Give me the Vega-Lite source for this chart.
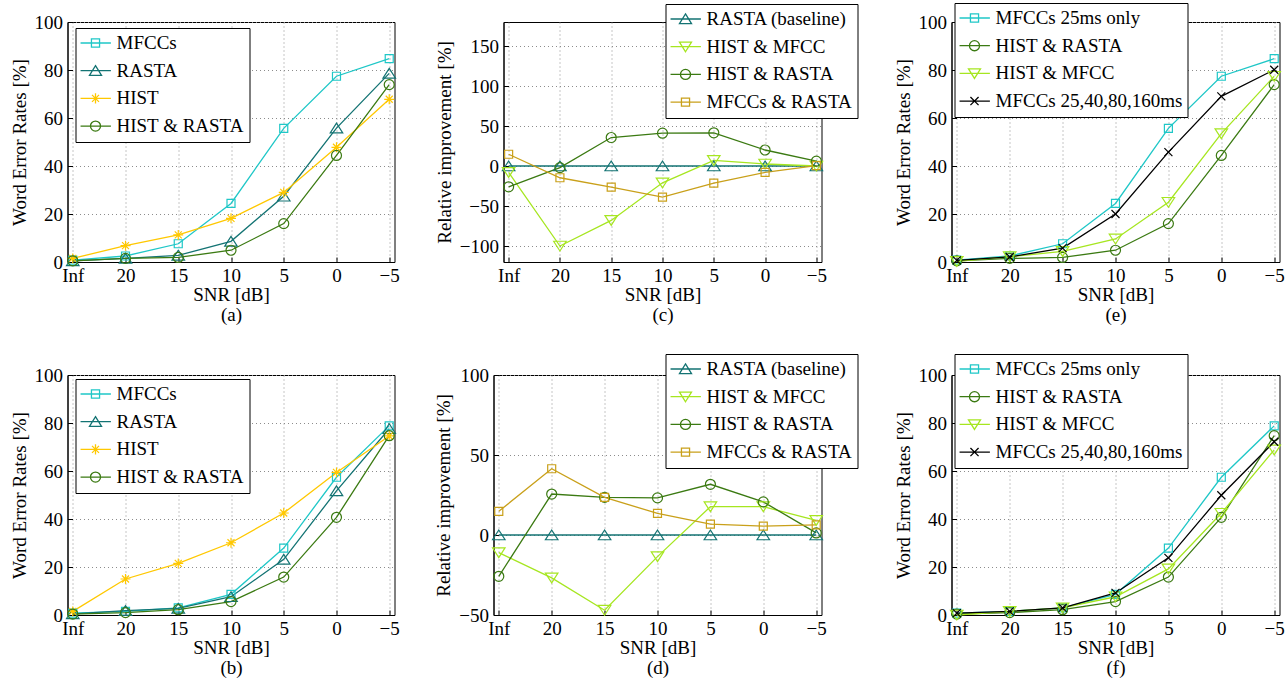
{
  "$schema": "https://vega.github.io/schema/vega-lite/v6.json",
  "background": "white",
  "padding": {"left": 9.5, "top": 2, "right": 2, "bottom": 2},
  "datasets": {
    "a": [
      {"snr": "Inf", "MFCCs": 0.8, "RASTA": 0.5, "HIST": 1.5, "HIST & RASTA": 0.5},
      {"snr": "20", "MFCCs": 2.5, "RASTA": 1.5, "HIST": 6.8, "HIST & RASTA": 1.5},
      {"snr": "15", "MFCCs": 7.6, "RASTA": 2.8, "HIST": 11.3, "HIST & RASTA": 1.9},
      {"snr": "10", "MFCCs": 24.4, "RASTA": 8.6, "HIST": 18.2, "HIST & RASTA": 4.9},
      {"snr": "5", "MFCCs": 55.7, "RASTA": 27.4, "HIST": 29, "HIST & RASTA": 16},
      {"snr": "0", "MFCCs": 77.4, "RASTA": 55.8, "HIST": 47.8, "HIST & RASTA": 44.4},
      {"snr": "−5", "MFCCs": 84.7, "RASTA": 78.6, "HIST": 67.8, "HIST & RASTA": 73.9}
    ],
    "b": [
      {"snr": "Inf", "MFCCs": 0.8, "RASTA": 0.5, "HIST": 1.5, "HIST & RASTA": 0.4},
      {"snr": "20", "MFCCs": 1.5, "RASTA": 1.8, "HIST": 15, "HIST & RASTA": 1},
      {"snr": "15", "MFCCs": 3.0, "RASTA": 2.8, "HIST": 21.5, "HIST & RASTA": 2.2},
      {"snr": "10", "MFCCs": 8.6, "RASTA": 7.6, "HIST": 30.1, "HIST & RASTA": 5.6},
      {"snr": "5", "MFCCs": 27.9, "RASTA": 23.2, "HIST": 42.5, "HIST & RASTA": 15.8},
      {"snr": "0", "MFCCs": 57.4, "RASTA": 51.7, "HIST": 59.4, "HIST & RASTA": 40.7},
      {"snr": "−5", "MFCCs": 78.8, "RASTA": 77.6, "HIST": 74.6, "HIST & RASTA": 74.7}
    ],
    "c": [
      {"snr": "Inf", "RASTA (baseline)": 0, "HIST & MFCC": -8, "HIST & RASTA": -26, "MFCCs & RASTA": 14.7},
      {"snr": "20", "RASTA (baseline)": 0, "HIST & MFCC": -100, "HIST & RASTA": -2, "MFCCs & RASTA": -14.7},
      {"snr": "15", "RASTA (baseline)": 0, "HIST & MFCC": -68, "HIST & RASTA": 35.6, "MFCCs & RASTA": -26.4},
      {"snr": "10", "RASTA (baseline)": 0, "HIST & MFCC": -21, "HIST & RASTA": 41, "MFCCs & RASTA": -39},
      {"snr": "5", "RASTA (baseline)": 0, "HIST & MFCC": 7, "HIST & RASTA": 41.5, "MFCCs & RASTA": -21.4},
      {"snr": "0", "RASTA (baseline)": 0, "HIST & MFCC": 2.5, "HIST & RASTA": 20, "MFCCs & RASTA": -8},
      {"snr": "−5", "RASTA (baseline)": 0, "HIST & MFCC": 0, "HIST & RASTA": 6, "MFCCs & RASTA": 0.5}
    ],
    "d": [
      {"snr": "Inf", "RASTA (baseline)": 0, "HIST & MFCC": -11, "HIST & RASTA": -25.8, "MFCCs & RASTA": 14.8},
      {"snr": "20", "RASTA (baseline)": 0, "HIST & MFCC": -26.8, "HIST & RASTA": 25.6, "MFCCs & RASTA": 41.4},
      {"snr": "15", "RASTA (baseline)": 0, "HIST & MFCC": -47, "HIST & RASTA": 23.5, "MFCCs & RASTA": 23.5},
      {"snr": "10", "RASTA (baseline)": 0, "HIST & MFCC": -13.5, "HIST & RASTA": 23.2, "MFCCs & RASTA": 13.5},
      {"snr": "5", "RASTA (baseline)": 0, "HIST & MFCC": 17.7, "HIST & RASTA": 31.7, "MFCCs & RASTA": 6.8},
      {"snr": "0", "RASTA (baseline)": 0, "HIST & MFCC": 17.7, "HIST & RASTA": 20.7, "MFCCs & RASTA": 5.5},
      {"snr": "−5", "RASTA (baseline)": 0, "HIST & MFCC": 9.1, "HIST & RASTA": 1.3, "MFCCs & RASTA": 6.3}
    ],
    "e": [
      {"snr": "Inf", "MFCCs 25ms only": 0.8, "HIST & RASTA": 0.5, "HIST & MFCC": 0.3, "MFCCs 25,40,80,160ms": 0.7},
      {"snr": "20", "MFCCs 25ms only": 2.5, "HIST & RASTA": 1.5, "HIST & MFCC": 2.2, "MFCCs 25,40,80,160ms": 2.1},
      {"snr": "15", "MFCCs 25ms only": 7.6, "HIST & RASTA": 1.9, "HIST & MFCC": 4.4, "MFCCs 25,40,80,160ms": 5.8},
      {"snr": "10", "MFCCs 25ms only": 24.4, "HIST & RASTA": 4.9, "HIST & MFCC": 9.6, "MFCCs 25,40,80,160ms": 20},
      {"snr": "5", "MFCCs 25ms only": 55.7, "HIST & RASTA": 16, "HIST & MFCC": 24.9, "MFCCs 25,40,80,160ms": 45.8},
      {"snr": "0", "MFCCs 25ms only": 77.4, "HIST & RASTA": 44.4, "HIST & MFCC": 53.5, "MFCCs 25,40,80,160ms": 69},
      {"snr": "−5", "MFCCs 25ms only": 84.7, "HIST & RASTA": 73.9, "HIST & MFCC": 77.4, "MFCCs 25,40,80,160ms": 80.1}
    ],
    "f": [
      {"snr": "Inf", "MFCCs 25ms only": 0.8, "HIST & RASTA": 0.4, "HIST & MFCC": 0, "MFCCs 25,40,80,160ms": 0.8},
      {"snr": "20", "MFCCs 25ms only": 1.5, "HIST & RASTA": 1, "HIST & MFCC": 1.5, "MFCCs 25,40,80,160ms": 1.5},
      {"snr": "15", "MFCCs 25ms only": 3.0, "HIST & RASTA": 2.2, "HIST & MFCC": 3.0, "MFCCs 25,40,80,160ms": 3.0},
      {"snr": "10", "MFCCs 25ms only": 8.6, "HIST & RASTA": 5.6, "HIST & MFCC": 7.6, "MFCCs 25,40,80,160ms": 9.2},
      {"snr": "5", "MFCCs 25ms only": 27.9, "HIST & RASTA": 15.8, "HIST & MFCC": 19.2, "MFCCs 25,40,80,160ms": 23.8},
      {"snr": "0", "MFCCs 25ms only": 57.4, "HIST & RASTA": 40.7, "HIST & MFCC": 42.4, "MFCCs 25,40,80,160ms": 49.9},
      {"snr": "−5", "MFCCs 25ms only": 78.8, "HIST & RASTA": 74.7, "HIST & MFCC": 68.8, "MFCCs 25,40,80,160ms": 72.2}
    ]
  },
  "config": {
    "font": "Liberation Serif",
    "view": {"stroke": "black", "strokeWidth": 1},
    "axis": {
      "labelFont": "Liberation Serif", "labelFontSize": 19, "labelColor": "black",
      "titleFont": "Liberation Serif", "titleFontSize": 19, "titleFontWeight": "normal", "titleColor": "black",
      "domainColor": "black", "domainWidth": 1,
      "tickColor": "black", "tickSize": -5, "tickWidth": 1,
      "grid": true, "gridColor": "#8c8c8c", "gridDash": [1, 3], "gridWidth": 1,
      "labelPadding": 10, "titlePadding": 5
    },
    "axisX": {"labelAngle": 0, "titleLineHeight": 20, "titlePadding": 0, "labelPadding": 9.6},
    "legend": {
      "orient": "none", "direction": "vertical",
      "strokeColor": "black", "fillColor": "white", "padding": 5,
      "labelFont": "Liberation Serif", "labelFontSize": 19, "labelColor": "black", "labelLimit": 400,
      "symbolSize": 784, "symbolStrokeWidth": 1.3, "clipHeight": 20, "rowPadding": 7.7, "labelOffset": 6
    },
    "line": {"strokeWidth": 1.3},
    "point": {"filled": false, "size": 100, "strokeWidth": 1.2, "opacity": 1}
  },
  "spacing": 27,
  "resolve": {"scale": {"color": "independent"}, "legend": {"color": "independent"}},
  "vconcat": [
    {
      "bounds": "flush",
      "spacing": 0,
      "resolve": {"scale": {"color": "independent"}, "legend": {"color": "independent"}},
      "hconcat": [
        {
          "width": 327, "height": 240,
          "data": {"name": "a"},
          "transform": [{"fold": ["MFCCs", "RASTA", "HIST", "HIST & RASTA"], "as": ["series", "value"]}],
          "encoding": {
            "x": {"field": "snr", "type": "ordinal", "sort": ["Inf", "20", "15", "10", "5", "0", "−5"], "scale": {"type": "point", "padding": 0.1}, "axis": {"title": ["SNR [dB]", "(a)"]}},
            "y": {"field": "value", "type": "quantitative", "scale": {"domain": [0, 100], "nice": false, "zero": false}, "axis": {"title": "Word Error Rates [%]", "values": [0, 20, 40, 60, 80, 100]}},
            "color": {"field": "series", "type": "nominal",
              "scale": {"domain": ["MFCCs", "RASTA", "HIST", "HIST & RASTA"], "range": ["#1fc7c7", "#137373", "#ffc800", "#3b7a12"]},
              "legend": {"title": null, "legendX": 8, "legendY": 6,
                "encoding": {"symbols": {"fill": {"value": "transparent"}, "shape": {"value": {"expr": "'M-1.1,0H1.1' + (datum.value == 'HIST & RASTA' ? 'M-0.36,0A0.36,0.36,0,1,0,0.36,0A0.36,0.36,0,1,0,-0.36,0Z' : datum.value == 'HIST' ? 'M0,-0.36V0.36M-0.36,0H0.36M-0.25,-0.25L0.25,0.25M-0.25,0.25L0.25,-0.25' : datum.value == 'HIST & MFCC' ? 'M0,0.36L0.43,-0.33L-0.43,-0.33Z' : datum.value == 'MFCCs 25,40,80,160ms' ? 'M-0.29,-0.29L0.29,0.29M-0.29,0.29L0.29,-0.29' : indexof(datum.value, 'RASTA') == 0 ? 'M0,-0.36L0.43,0.33L-0.43,0.33Z' : 'M-0.29,-0.29H0.29V0.29H-0.29Z')"}}}}}}
          },
          "layer": [
            {"mark": {"type": "line"}},
            {"transform": [{"filter": "datum.series == 'MFCCs'"}], "mark": {"type": "point", "shape": "M-0.8,-0.8H0.8V0.8H-0.8Z"}},
            {"transform": [{"filter": "datum.series == 'RASTA'"}], "mark": {"type": "point", "shape": "M0,-1L1.25,0.95L-1.25,0.95Z"}},
            {"transform": [{"filter": "datum.series == 'HIST'"}], "mark": {"type": "point", "shape": "M0,-1V1M-1,0H1M-0.7,-0.7L0.7,0.7M-0.7,0.7L0.7,-0.7"}},
            {"transform": [{"filter": "datum.series == 'HIST & RASTA'"}], "mark": {"type": "point", "shape": "circle"}}
          ]
        },
        {"width": 109, "height": 240, "data": {"values": []}, "mark": "point", "encoding": {}, "view": {"stroke": null}},
        {
          "width": 318, "height": 240,
          "data": {"name": "c"},
          "transform": [{"fold": ["RASTA (baseline)", "HIST & MFCC", "HIST & RASTA", "MFCCs & RASTA"], "as": ["series", "value"]}],
          "encoding": {
            "x": {"field": "snr", "type": "ordinal", "sort": ["Inf", "20", "15", "10", "5", "0", "−5"], "scale": {"type": "point", "padding": 0.1}, "axis": {"title": ["SNR [dB]", "(c)"]}},
            "y": {"field": "value", "type": "quantitative", "scale": {"domain": [-120, 180], "nice": false, "zero": false}, "axis": {"title": "Relative improvement [%]", "values": [-100, -50, 0, 50, 100, 150]}},
            "color": {"field": "series", "type": "nominal",
              "scale": {"domain": ["RASTA (baseline)", "HIST & MFCC", "HIST & RASTA", "MFCCs & RASTA"], "range": ["#137373", "#a6e620", "#3b7a12", "#c9a01a"]},
              "legend": {"title": null, "legendX": 162, "legendY": -18,
                "encoding": {"symbols": {"fill": {"value": "transparent"}, "shape": {"value": {"expr": "'M-1.1,0H1.1' + (datum.value == 'HIST & RASTA' ? 'M-0.36,0A0.36,0.36,0,1,0,0.36,0A0.36,0.36,0,1,0,-0.36,0Z' : datum.value == 'HIST' ? 'M0,-0.36V0.36M-0.36,0H0.36M-0.25,-0.25L0.25,0.25M-0.25,0.25L0.25,-0.25' : datum.value == 'HIST & MFCC' ? 'M0,0.36L0.43,-0.33L-0.43,-0.33Z' : datum.value == 'MFCCs 25,40,80,160ms' ? 'M-0.29,-0.29L0.29,0.29M-0.29,0.29L0.29,-0.29' : indexof(datum.value, 'RASTA') == 0 ? 'M0,-0.36L0.43,0.33L-0.43,0.33Z' : 'M-0.29,-0.29H0.29V0.29H-0.29Z')"}}}}}}
          },
          "layer": [
            {"mark": {"type": "line"}},
            {"transform": [{"filter": "datum.series == 'RASTA (baseline)'"}], "mark": {"type": "point", "shape": "M0,-1L1.25,0.95L-1.25,0.95Z"}},
            {"transform": [{"filter": "datum.series == 'HIST & MFCC'"}], "mark": {"type": "point", "shape": "M0,1L1.25,-0.95L-1.25,-0.95Z"}},
            {"transform": [{"filter": "datum.series == 'HIST & RASTA'"}], "mark": {"type": "point", "shape": "circle"}},
            {"transform": [{"filter": "datum.series == 'MFCCs & RASTA'"}], "mark": {"type": "point", "shape": "M-0.8,-0.8H0.8V0.8H-0.8Z"}}
          ]
        },
        {"width": 130, "height": 240, "data": {"values": []}, "mark": "point", "encoding": {}, "view": {"stroke": null}},
        {
          "width": 328, "height": 240,
          "data": {"name": "e"},
          "transform": [{"fold": ["MFCCs 25ms only", "HIST & RASTA", "HIST & MFCC", "MFCCs 25,40,80,160ms"], "as": ["series", "value"]}],
          "encoding": {
            "x": {"field": "snr", "type": "ordinal", "sort": ["Inf", "20", "15", "10", "5", "0", "−5"], "scale": {"type": "point", "padding": 0.1}, "axis": {"title": ["SNR [dB]", "(e)"]}},
            "y": {"field": "value", "type": "quantitative", "scale": {"domain": [0, 100], "nice": false, "zero": false}, "axis": {"title": "Word Error Rates [%]", "values": [0, 20, 40, 60, 80, 100]}},
            "color": {"field": "series", "type": "nominal",
              "scale": {"domain": ["MFCCs 25ms only", "HIST & RASTA", "HIST & MFCC", "MFCCs 25,40,80,160ms"], "range": ["#1fc7c7", "#3b7a12", "#a6e620", "#000000"]},
              "legend": {"title": null, "legendX": 3, "legendY": -19,
                "encoding": {"symbols": {"fill": {"value": "transparent"}, "shape": {"value": {"expr": "'M-1.1,0H1.1' + (datum.value == 'HIST & RASTA' ? 'M-0.36,0A0.36,0.36,0,1,0,0.36,0A0.36,0.36,0,1,0,-0.36,0Z' : datum.value == 'HIST' ? 'M0,-0.36V0.36M-0.36,0H0.36M-0.25,-0.25L0.25,0.25M-0.25,0.25L0.25,-0.25' : datum.value == 'HIST & MFCC' ? 'M0,0.36L0.43,-0.33L-0.43,-0.33Z' : datum.value == 'MFCCs 25,40,80,160ms' ? 'M-0.29,-0.29L0.29,0.29M-0.29,0.29L0.29,-0.29' : indexof(datum.value, 'RASTA') == 0 ? 'M0,-0.36L0.43,0.33L-0.43,0.33Z' : 'M-0.29,-0.29H0.29V0.29H-0.29Z')"}}}}}}
          },
          "layer": [
            {"mark": {"type": "line"}},
            {"transform": [{"filter": "datum.series == 'MFCCs 25ms only'"}], "mark": {"type": "point", "shape": "M-0.8,-0.8H0.8V0.8H-0.8Z"}},
            {"transform": [{"filter": "datum.series == 'HIST & RASTA'"}], "mark": {"type": "point", "shape": "circle"}},
            {"transform": [{"filter": "datum.series == 'HIST & MFCC'"}], "mark": {"type": "point", "shape": "M0,1L1.25,-0.95L-1.25,-0.95Z"}},
            {"transform": [{"filter": "datum.series == 'MFCCs 25,40,80,160ms'"}], "mark": {"type": "point", "shape": "M-0.8,-0.8L0.8,0.8M-0.8,0.8L0.8,-0.8"}}
          ]
        }
      ]
    },
    {
      "bounds": "flush",
      "spacing": 0,
      "resolve": {"scale": {"color": "independent"}, "legend": {"color": "independent"}},
      "hconcat": [
        {
          "width": 327, "height": 240,
          "data": {"name": "b"},
          "transform": [{"fold": ["MFCCs", "RASTA", "HIST", "HIST & RASTA"], "as": ["series", "value"]}],
          "encoding": {
            "x": {"field": "snr", "type": "ordinal", "sort": ["Inf", "20", "15", "10", "5", "0", "−5"], "scale": {"type": "point", "padding": 0.1}, "axis": {"title": ["SNR [dB]", "(b)"]}},
            "y": {"field": "value", "type": "quantitative", "scale": {"domain": [0, 100], "nice": false, "zero": false}, "axis": {"title": "Word Error Rates [%]", "values": [0, 20, 40, 60, 80, 100]}},
            "color": {"field": "series", "type": "nominal",
              "scale": {"domain": ["MFCCs", "RASTA", "HIST", "HIST & RASTA"], "range": ["#1fc7c7", "#137373", "#ffc800", "#3b7a12"]},
              "legend": {"title": null, "legendX": 8, "legendY": 4,
                "encoding": {"symbols": {"fill": {"value": "transparent"}, "shape": {"value": {"expr": "'M-1.1,0H1.1' + (datum.value == 'HIST & RASTA' ? 'M-0.36,0A0.36,0.36,0,1,0,0.36,0A0.36,0.36,0,1,0,-0.36,0Z' : datum.value == 'HIST' ? 'M0,-0.36V0.36M-0.36,0H0.36M-0.25,-0.25L0.25,0.25M-0.25,0.25L0.25,-0.25' : datum.value == 'HIST & MFCC' ? 'M0,0.36L0.43,-0.33L-0.43,-0.33Z' : datum.value == 'MFCCs 25,40,80,160ms' ? 'M-0.29,-0.29L0.29,0.29M-0.29,0.29L0.29,-0.29' : indexof(datum.value, 'RASTA') == 0 ? 'M0,-0.36L0.43,0.33L-0.43,0.33Z' : 'M-0.29,-0.29H0.29V0.29H-0.29Z')"}}}}}}
          },
          "layer": [
            {"mark": {"type": "line"}},
            {"transform": [{"filter": "datum.series == 'MFCCs'"}], "mark": {"type": "point", "shape": "M-0.8,-0.8H0.8V0.8H-0.8Z"}},
            {"transform": [{"filter": "datum.series == 'RASTA'"}], "mark": {"type": "point", "shape": "M0,-1L1.25,0.95L-1.25,0.95Z"}},
            {"transform": [{"filter": "datum.series == 'HIST'"}], "mark": {"type": "point", "shape": "M0,-1V1M-1,0H1M-0.7,-0.7L0.7,0.7M-0.7,0.7L0.7,-0.7"}},
            {"transform": [{"filter": "datum.series == 'HIST & RASTA'"}], "mark": {"type": "point", "shape": "circle"}}
          ]
        },
        {"width": 99, "height": 240, "data": {"values": []}, "mark": "point", "encoding": {}, "view": {"stroke": null}},
        {
          "width": 328, "height": 240,
          "data": {"name": "d"},
          "transform": [{"fold": ["RASTA (baseline)", "HIST & MFCC", "HIST & RASTA", "MFCCs & RASTA"], "as": ["series", "value"]}],
          "encoding": {
            "x": {"field": "snr", "type": "ordinal", "sort": ["Inf", "20", "15", "10", "5", "0", "−5"], "scale": {"type": "point", "padding": 0.1}, "axis": {"title": ["SNR [dB]", "(d)"]}},
            "y": {"field": "value", "type": "quantitative", "scale": {"domain": [-50, 100], "nice": false, "zero": false}, "axis": {"title": "Relative improvement [%]", "values": [-50, 0, 50, 100]}},
            "color": {"field": "series", "type": "nominal",
              "scale": {"domain": ["RASTA (baseline)", "HIST & MFCC", "HIST & RASTA", "MFCCs & RASTA"], "range": ["#137373", "#a6e620", "#3b7a12", "#c9a01a"]},
              "legend": {"title": null, "legendX": 172, "legendY": -21,
                "encoding": {"symbols": {"fill": {"value": "transparent"}, "shape": {"value": {"expr": "'M-1.1,0H1.1' + (datum.value == 'HIST & RASTA' ? 'M-0.36,0A0.36,0.36,0,1,0,0.36,0A0.36,0.36,0,1,0,-0.36,0Z' : datum.value == 'HIST' ? 'M0,-0.36V0.36M-0.36,0H0.36M-0.25,-0.25L0.25,0.25M-0.25,0.25L0.25,-0.25' : datum.value == 'HIST & MFCC' ? 'M0,0.36L0.43,-0.33L-0.43,-0.33Z' : datum.value == 'MFCCs 25,40,80,160ms' ? 'M-0.29,-0.29L0.29,0.29M-0.29,0.29L0.29,-0.29' : indexof(datum.value, 'RASTA') == 0 ? 'M0,-0.36L0.43,0.33L-0.43,0.33Z' : 'M-0.29,-0.29H0.29V0.29H-0.29Z')"}}}}}}
          },
          "layer": [
            {"mark": {"type": "line"}},
            {"transform": [{"filter": "datum.series == 'RASTA (baseline)'"}], "mark": {"type": "point", "shape": "M0,-1L1.25,0.95L-1.25,0.95Z"}},
            {"transform": [{"filter": "datum.series == 'HIST & MFCC'"}], "mark": {"type": "point", "shape": "M0,1L1.25,-0.95L-1.25,-0.95Z"}},
            {"transform": [{"filter": "datum.series == 'HIST & RASTA'"}], "mark": {"type": "point", "shape": "circle"}},
            {"transform": [{"filter": "datum.series == 'MFCCs & RASTA'"}], "mark": {"type": "point", "shape": "M-0.8,-0.8H0.8V0.8H-0.8Z"}}
          ]
        },
        {"width": 130, "height": 240, "data": {"values": []}, "mark": "point", "encoding": {}, "view": {"stroke": null}},
        {
          "width": 328, "height": 240,
          "data": {"name": "f"},
          "transform": [{"fold": ["MFCCs 25ms only", "HIST & RASTA", "HIST & MFCC", "MFCCs 25,40,80,160ms"], "as": ["series", "value"]}],
          "encoding": {
            "x": {"field": "snr", "type": "ordinal", "sort": ["Inf", "20", "15", "10", "5", "0", "−5"], "scale": {"type": "point", "padding": 0.1}, "axis": {"title": ["SNR [dB]", "(f)"]}},
            "y": {"field": "value", "type": "quantitative", "scale": {"domain": [0, 100], "nice": false, "zero": false}, "axis": {"title": "Word Error Rates [%]", "values": [0, 20, 40, 60, 80, 100]}},
            "color": {"field": "series", "type": "nominal",
              "scale": {"domain": ["MFCCs 25ms only", "HIST & RASTA", "HIST & MFCC", "MFCCs 25,40,80,160ms"], "range": ["#1fc7c7", "#3b7a12", "#a6e620", "#000000"]},
              "legend": {"title": null, "legendX": 3, "legendY": -21,
                "encoding": {"symbols": {"fill": {"value": "transparent"}, "shape": {"value": {"expr": "'M-1.1,0H1.1' + (datum.value == 'HIST & RASTA' ? 'M-0.36,0A0.36,0.36,0,1,0,0.36,0A0.36,0.36,0,1,0,-0.36,0Z' : datum.value == 'HIST' ? 'M0,-0.36V0.36M-0.36,0H0.36M-0.25,-0.25L0.25,0.25M-0.25,0.25L0.25,-0.25' : datum.value == 'HIST & MFCC' ? 'M0,0.36L0.43,-0.33L-0.43,-0.33Z' : datum.value == 'MFCCs 25,40,80,160ms' ? 'M-0.29,-0.29L0.29,0.29M-0.29,0.29L0.29,-0.29' : indexof(datum.value, 'RASTA') == 0 ? 'M0,-0.36L0.43,0.33L-0.43,0.33Z' : 'M-0.29,-0.29H0.29V0.29H-0.29Z')"}}}}}}
          },
          "layer": [
            {"mark": {"type": "line"}},
            {"transform": [{"filter": "datum.series == 'MFCCs 25ms only'"}], "mark": {"type": "point", "shape": "M-0.8,-0.8H0.8V0.8H-0.8Z"}},
            {"transform": [{"filter": "datum.series == 'HIST & RASTA'"}], "mark": {"type": "point", "shape": "circle"}},
            {"transform": [{"filter": "datum.series == 'HIST & MFCC'"}], "mark": {"type": "point", "shape": "M0,1L1.25,-0.95L-1.25,-0.95Z"}},
            {"transform": [{"filter": "datum.series == 'MFCCs 25,40,80,160ms'"}], "mark": {"type": "point", "shape": "M-0.8,-0.8L0.8,0.8M-0.8,0.8L0.8,-0.8"}}
          ]
        }
      ]
    }
  ]
}
